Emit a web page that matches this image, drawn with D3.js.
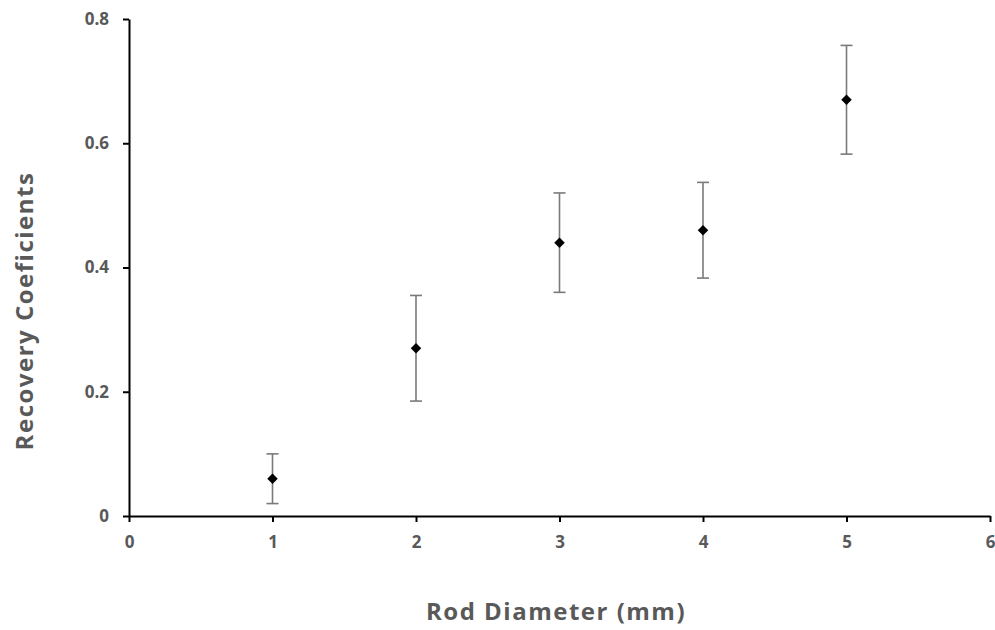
<!DOCTYPE html>
<html>
<head>
<meta charset="utf-8">
<script src="https://cdn.jsdelivr.net/npm/d3@7"></script>
<style>
  body { margin: 0; background: #fff; }
  svg text { font-family: "Open Sans", "Noto Sans", sans-serif; font-weight: bold; fill: #595959; }
</style>
</head>
<body>
<div id="chart"></div>
<script>
// valeurs
const diameters = [1, 2, 3, 4, 5];
const recovery = [0.06, 0.27, 0.44, 0.46, 0.67];
const errors = [0.04, 0.085, 0.08, 0.077, 0.0875];
const xTicks = [0, 1, 2, 3, 4, 5, 6];
const yTicks = [0, 0.2, 0.4, 0.6, 0.8];

const width = 995, height = 630;
const margin = {top: 19, right: 5, bottom: 114, left: 129};

const svg = d3.select("#chart")
  .append("svg")
  .attr("width", width)
  .attr("height", height);

const x = d3.scaleLinear().domain([0, 6]).range([margin.left, width - margin.right]);
const y = d3.scaleLinear().domain([0, 0.8]).range([height - margin.bottom, margin.top]);

// axes
const xAxis = svg.append("g")
  .attr("transform", `translate(0,${y(0)})`)
  .call(d3.axisBottom(x).tickValues(xTicks).tickFormat(d3.format("d")).tickSize(6).tickSizeOuter(0));

const yAxis = svg.append("g")
  .attr("transform", `translate(${x(0)},0)`)
  .call(d3.axisLeft(y).tickValues(yTicks).tickFormat(d => d === 0 ? "0" : d3.format(".1f")(d)).tickSize(6).tickSizeOuter(0));

[xAxis, yAxis].forEach(g => {
  g.select(".domain").attr("stroke", "#000").attr("stroke-width", 2);
  g.selectAll(".tick line").attr("stroke", "#000").attr("stroke-width", 2);
  g.selectAll(".tick text").attr("font-size", 17).attr("fill", "#595959");
});
xAxis.selectAll(".tick text").attr("y", 12).attr("dy", "1.2em");
yAxis.selectAll(".tick text").attr("x", -20);

// barres d'erreur
const bars = svg.append("g")
  .selectAll("g")
  .data(diameters)
  .enter()
  .append("g")
  .attr("stroke", "#7a7a7a")
  .attr("stroke-width", 1.6);

bars.append("line")
  .attr("x1", d => x(d))
  .attr("x2", d => x(d))
  .attr("y1", (d, i) => y(recovery[i] + errors[i]))
  .attr("y2", (d, i) => y(recovery[i] - errors[i]));

bars.append("line")
  .attr("x1", d => x(d) - 6)
  .attr("x2", d => x(d) + 6)
  .attr("y1", (d, i) => y(recovery[i] + errors[i]))
  .attr("y2", (d, i) => y(recovery[i] + errors[i]));

bars.append("line")
  .attr("x1", d => x(d) - 6)
  .attr("x2", d => x(d) + 6)
  .attr("y1", (d, i) => y(recovery[i] - errors[i]))
  .attr("y2", (d, i) => y(recovery[i] - errors[i]));

// points
svg.append("g")
  .selectAll("path")
  .data(diameters)
  .enter()
  .append("path")
  .attr("d", d3.symbol().type(d3.symbolDiamond2).size(70))
  .attr("transform", (d, i) => `translate(${x(d)},${y(recovery[i])})`)
  .attr("fill", "#000");

// titres
svg.append("text")
  .attr("x", 556)
  .attr("y", 620)
  .attr("text-anchor", "middle")
  .attr("font-size", 24)
  .attr("letter-spacing", 1.5)
  .text("Rod Diameter (mm)");

svg.append("text")
  .attr("transform", "translate(33,311) rotate(-90)")
  .attr("text-anchor", "middle")
  .attr("font-size", 24)
  .attr("letter-spacing", 1.5)
  .text("Recovery Coeficients");
</script>
</body>
</html>
